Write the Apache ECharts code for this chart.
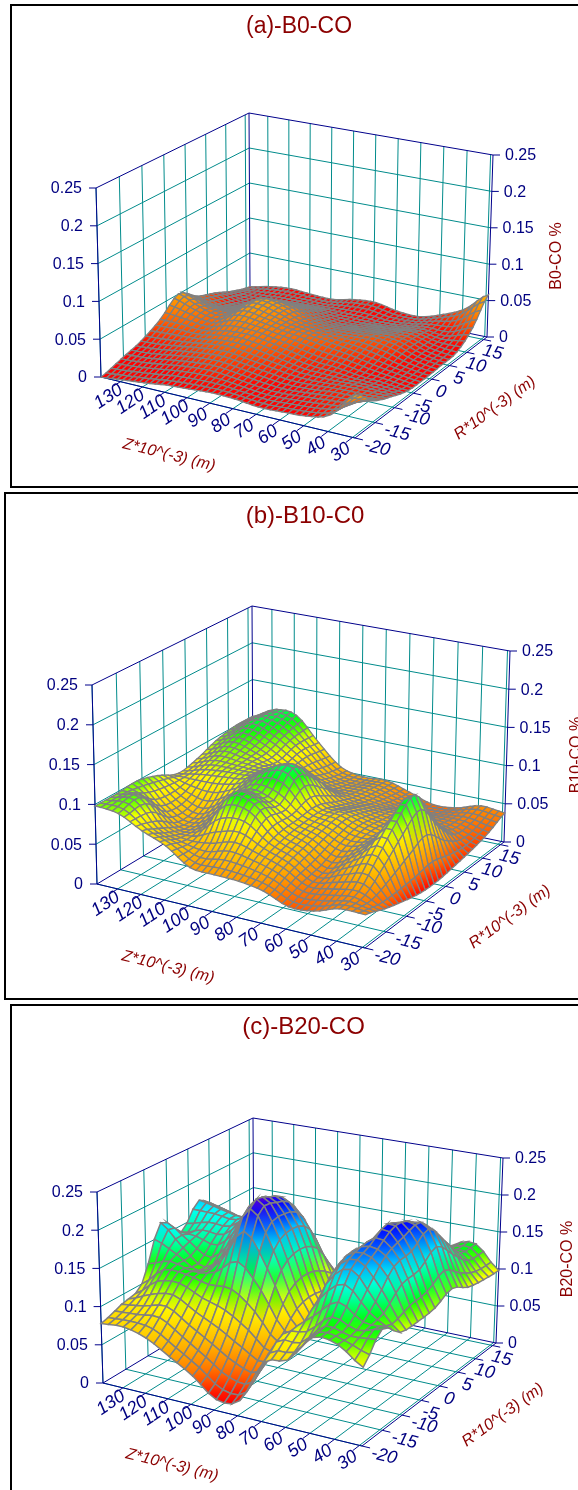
<!DOCTYPE html>
<html><head><meta charset="utf-8">
<style>html,body{margin:0;padding:0;background:#fff}#c{width:578px;height:1490px}</style>
<script src="https://cdn.jsdelivr.net/npm/echarts@6/dist/echarts.min.js"></script>
</head><body><div id="c"></div>
<script>
// ---- data (heights in 0.001 %; rows = R, columns = Z) ----
const zGrid = [139,129,119,109,99,89,79,69,59,49,39,29];
const rGrid = [-20,-15.5,-11,-6.5,-2,2.5,7,11.5,16];
const zTicks = [130,120,110,100,90,80,70,60,50,40,30];
const rTicks = [-20,-15,-10,-5,0,5,10,15];
const hTicks = [0,0.05,0.1,0.15,0.2,0.25];
const hLabels = ['0','0.05','0.1','0.15','0.2','0.25'];
const heightsA = [
 [ 0, 3, 6,10,12,14,13,10,11,13,22,55],
 [ 8,10,14,18,20,18,14,12,14,17,20,30],
 [16,18,22,26,28,24,20,16,16,18,18,18],
 [30,30,28,34,36,32,26,20,18,14,12, 9],
 [50,38,32,46,42,36,32,28,24,18,12, 8],
 [32,24,28,48,44,32,26,26,28,24,14, 9],
 [22,14,16,26,28,20,16,18,20,22,14,11],
 [10, 8,10,12,12,12,12,10,12,16,16,28],
 [ 2, 8,11, 9, 8,14,16,10, 9,18,32,58]];
const heightsB = [
 [ 98, 95, 80, 68, 48, 46, 45, 40, 28, 30, 40, 40],
 [ 98,100, 68, 60, 62, 70, 62, 52, 36, 40, 44, 30],
 [100, 74, 56, 66,106,102, 72, 60, 42, 58, 70, 22],
 [ 92, 72, 62, 80,100, 92, 74, 66, 54, 66, 98, 16],
 [ 80, 85, 88, 92,112,118, 76, 70, 60, 62,116, 15],
 [ 85, 95, 92, 90, 98, 95, 66, 62, 56, 54, 72, 18],
 [ 95,105, 95, 80, 72, 62, 56, 52, 50, 46, 40, 22],
 [100,115,105, 85, 60, 52, 52, 44, 36, 36, 36, 28],
 [100,115,113, 82, 55, 48, 49, 40, 30, 32, 41, 38]];
const heightsC = [
 [ 78, 80, 72, 55, 37, 14, 20, 75, 85,120,118, 97],
 [ 88, 92, 98, 80, 62, 44, 40, 95,105,130,120,128],
 [100,125,125,118,118, 95, 62, 78,150,175,140,108],
 [168,140,120,150,210,160, 90, 70,165,190,170,106],
 [140,150,150,180,212,175, 95, 65,125,205,175,108],
 [172,165,160,175,192,160, 85, 60,105,185,190,118],
 [140,135,125,130,120,100, 75, 55, 85,150,160,105],
 [110,100, 90, 80, 70, 65, 60, 50, 72,120,130,100],
 [ 90, 85, 76, 60, 42, 45, 48, 60, 85,120,128, 98]];

// ---- layout and style ----
const TEAL='#008B8B', NAVY='#00008B', LABEL='#000080', DARKRED='#8B0000', MESH='#808080';
const FONT='"Liberation Sans",Arial,sans-serif';
const heightStops=[[0,'#ff0000'],[0.015,'#ff0000'],[0.035,'#ff6a00'],[0.06,'#ffb000'],[0.1,'#ffff00'],[0.125,'#00ff00'],[0.15,'#00ffc0'],[0.165,'#00ffff'],[0.19,'#0050ff'],[0.205,'#0000ff'],[0.225,'#8000c0']];
const panels=[
 {name:'(a)-B0-CO', tx:294,ty:10, tsize:23, colorGain:1.1, frame:[11,5,640,482], heights:heightsA, sz:4,sr:4, meshW:1.3, hTitle:'B0-CO %', hT:[557,256],
  zT:[169,455], rT:[495,408],
  floor:[[101,377],[355,438],[487,337],[250,288]], top:[[96,188],[358,241],[493,155],[249,113]]},
 {name:'(b)-B10-C0', tx:300,ty:499, tsize:24, colorGain:1.15, frame:[5,493,640,506], heights:heightsB, sz:4,sr:4, meshW:1.3, hTitle:'B10-CO %', hT:[577,755],
  zT:[168,967], rT:[510,917],
  floor:[[97,884],[365,948],[504,842],[253,790]], top:[[92,685],[368,741],[510,651],[252,606]]},
 {name:'(c)-B20-CO', tx:298.5,ty:1010, tsize:24, colorGain:1, frame:[11,1005,640,600], heights:heightsC, sz:3,sr:3, meshW:1.5, hTitle:'B20-CO %', hT:[568,1259],
  zT:[172,1465], rT:[503,1415],
  floor:[[103,1383],[362,1446],[496,1343],[254,1292]], top:[[97,1192],[365,1243],[503,1158],[253,1118]]}
];

function homography(q){
 const [x0,y0]=q[0],[x1,y1]=q[1],[x2,y2]=q[2],[x3,y3]=q[3];
 const dx1=x1-x2,dx2=x3-x2,sx=x0-x1+x2-x3,dy1=y1-y2,dy2=y3-y2,sy=y0-y1+y2-y3;
 const den=dx1*dy2-dx2*dy1, g=(sx*dy2-dx2*sy)/den, h=(dx1*sy-sx*dy1)/den;
 const a=x1-x0+g*x1,b=x3-x0+h*x3,d=y1-y0+g*y1,e=y3-y0+h*y3;
 return (u,v)=>{const w=g*u+h*v+1;return [(a*u+b*v+x0)/w,(d*u+e*v+y0)/w];};
}
const zHi=zGrid[0], zLo=zGrid[zGrid.length-1], rLo=rGrid[0], rHi=rGrid[rGrid.length-1], hHi=hTicks[hTicks.length-1];
panels.forEach(p=>{
 const f=homography(p.floor), t=homography(p.top);
 p.project=(z,r,h)=>{const u=(zHi-z)/(zHi-zLo),v=(r-rLo)/(rHi-rLo),w=h/hHi,a=f(u,v),b=t(u,v);
  return [a[0]+(b[0]-a[0])*w,a[1]+(b[1]-a[1])*w];};
 // display smoothing between the read values (Catmull-Rom), like a line's smooth:true
 const H=p.heights,nr=H.length,nz=H[0].length;
 const cr=(a,b,c,d,t)=>0.5*((2*b)+(c-a)*t+(2*a-5*b+4*c-d)*t*t+(3*b-a-3*c+d)*t*t*t);
 const at=(j,i)=>H[Math.max(0,Math.min(nr-1,j))][Math.max(0,Math.min(nz-1,i))];
 const smooth=(jf,if_)=>{const j=Math.min(nr-2,Math.floor(jf)),i=Math.min(nz-2,Math.floor(if_)),tj=jf-j,ti=if_-i,row=[];
  for(let k=-1;k<=2;k++)row.push(cr(at(j+k,i-1),at(j+k,i),at(j+k,i+1),at(j+k,i+2),ti));
  return Math.max(0,cr(row[0],row[1],row[2],row[3],tj))/1000;};
 p.mesh=[];const mr=(nr-1)*p.sr,mz=(nz-1)*p.sz;
 for(let j=0;j<=mr;j++){const row=[];for(let i=0;i<=mz;i++)row.push(smooth(j/p.sr,i/p.sz));p.mesh.push(row);}
 p.cells=[];for(let j=mr-1;j>=0;j--)for(let i=0;i<mz;i++)p.cells.push([i,j]);
 p.zOf=i=>zHi-(zHi-zLo)*i/mz; p.rOf=j=>rLo+(rHi-rLo)*j/mr;
});

function hex(c){return [1,3,5].map(k=>parseInt(c.substr(k,2),16));}
function heightColor(h){
 const s=heightStops;
 if(h<=s[0][0])return s[0][1];
 for(let k=1;k<s.length;k++)if(h<=s[k][0]){const t=(h-s[k-1][0])/(s[k][0]-s[k-1][0]),a=hex(s[k-1][1]),b=hex(s[k][1]);
  return 'rgb('+a.map((v,n)=>Math.round(v+(b[n]-v)*t)).join(',')+')';}
 return s[s.length-1][1];
}

function frameSegments(){
 const L=[];
 const seg=(a,b,c,dx)=>L.push({a,b,c,dx});
 zTicks.forEach(z=>{
  seg([z,rLo,0],[z,rHi,0],TEAL);             // floor
  seg([z,rHi,0],[z,rHi,hHi],TEAL);           // back wall
  seg([z,rLo,0],[z,rLo-1.6,0],NAVY);         // tick
 });
 rTicks.forEach(r=>{
  seg([zHi,r,0],[zLo,r,0],TEAL);
  seg([zHi,r,0],[zHi,r,hHi],TEAL);
  seg([zLo,r,0],[zLo-3.2,r,0],NAVY);
 });
 hTicks.forEach(h=>{
  if(h>0&&h<hHi){seg([zHi,rLo,h],[zHi,rHi,h],TEAL);seg([zHi,rHi,h],[zLo,rHi,h],TEAL);}
  seg([zHi,rLo,h],[zHi,rLo,h],NAVY,-7);
  seg([zLo,rHi,h],[zLo,rHi,h],NAVY,7);
 });
 [[[zHi,rLo,0],[zLo,rLo,0]],[[zLo,rLo,0],[zLo,rHi,0]],[[zLo,rHi,0],[zHi,rHi,0]],[[zHi,rHi,0],[zHi,rLo,0]],
  [[zHi,rLo,0],[zHi,rLo,hHi]],[[zHi,rHi,0],[zHi,rHi,hHi]],[[zLo,rHi,0],[zLo,rHi,hHi]],
  [[zHi,rLo,hHi],[zHi,rHi,hHi]],[[zHi,rHi,hHi],[zLo,rHi,hHi]]].forEach(e=>seg(e[0],e[1],NAVY));
 return L;
}
const segments=frameSegments();

function frameSeries(p){
 return {type:'custom',coordinateSystem:'cartesian2d',silent:true,clip:false,z:2,
  data:segments.map((s,i)=>[i,0]),
  renderItem:(params,api)=>{
   const s=segments[api.value(0)];
   const A=api.coord(p.project(...s.a)),B=api.coord(p.project(...s.b));
   if(s.dx)B[0]+=s.dx;
   return {type:'line',shape:{x1:A[0],y1:A[1],x2:B[0],y2:B[1]},style:{stroke:s.c,lineWidth:1}};
  }};
}
function surfaceSeries(p){
 return {type:'custom',coordinateSystem:'cartesian2d',silent:true,clip:false,z:3,progressive:0,
  data:p.cells,
  renderItem:(params,api)=>{
   const i=api.value(0),j=api.value(1);
   const corners=[[i,j],[i+1,j],[i+1,j+1],[i,j+1]].map(c=>{
    const h=p.mesh[c[1]][c[0]];
    return {h,pt:api.coord(p.project(p.zOf(c[0]),p.rOf(c[1]),h))};});
   let lo=corners[0],hi=corners[0];
   corners.forEach(c=>{if(c.h<lo.h)lo=c;if(c.h>hi.h)hi=c;});
   const g=p.colorGain;
   let fill=heightColor(g*(lo.h+hi.h)/2);
   if(Math.abs(lo.pt[1]-hi.pt[1])>1){
    fill={type:'linear',global:true,x:lo.pt[0],y:lo.pt[1],x2:lo.pt[0],y2:hi.pt[1],
     colorStops:[{offset:0,color:heightColor(g*lo.h)},{offset:1,color:heightColor(g*hi.h)}]};
   }
   return {type:'polygon',shape:{points:corners.map(c=>c.pt)},style:{fill,stroke:MESH,lineWidth:p.meshW}};
  }};
}
function labelSeries(p){
 const items=[];
 hTicks.forEach((h,k)=>{
  items.push({t:hLabels[k],at:[zHi,rLo,h],dx:-14,dy:1,align:'right',rot:0,font:'16px '+FONT,c:LABEL});
  items.push({t:hLabels[k],at:[zLo,rHi,h],dx:12,dy:1,align:'left',rot:0,font:'16px '+FONT,c:LABEL});
 });
 zTicks.forEach(z=>items.push({t:String(z),at:[z,rLo,0],dx:-12,dy:15,align:'center',rot:34,font:'italic 18px '+FONT,c:LABEL}));
 rTicks.forEach(r=>items.push({t:String(r),at:[zLo,r,0],dx:(r<-5?22:9),dy:(r<-5?10:13),align:'center',rot:-14,font:'italic 18px '+FONT,c:LABEL}));
 return {type:'custom',coordinateSystem:'cartesian2d',silent:true,clip:false,z:4,
  data:items.map((s,i)=>[i,0]),
  renderItem:(params,api)=>{
   const s=items[api.value(0)],P=api.coord(p.project(...s.at));
   return {type:'text',x:P[0]+s.dx,y:P[1]+s.dy,rotation:s.rot*Math.PI/180,
    style:{text:s.t,fill:s.c,font:s.font,align:s.align,verticalAlign:'middle'}};
  }};
}
const chart=echarts.init(document.getElementById('c'),null,{renderer:'canvas',width:578,height:1490});
const series=[],graphic=[];
panels.forEach(p=>{
 series.push(frameSeries(p),surfaceSeries(p),labelSeries(p));
 graphic.push({type:'rect',shape:{x:p.frame[0],y:p.frame[1],width:p.frame[2],height:p.frame[3]},style:{fill:'transparent',stroke:'#000',lineWidth:2},silent:true,z:0});
 [[p.hTitle,p.hT,90,'normal'],['Z*10^(-3) (m)',p.zT,-14,'italic'],['R*10^(-3) (m)',p.rT,36,'italic']].forEach(a=>{
  graphic.push({type:'text',x:a[1][0],y:a[1][1],rotation:a[2]*Math.PI/180,silent:true,z:5,
   style:{text:a[0],fill:DARKRED,font:a[3]+' 16px '+FONT,align:'center',verticalAlign:'middle'}});
 });
});
chart.setOption({
 animation:false,
 title:panels.map(p=>({text:p.name,left:p.tx,top:p.ty,textAlign:'center',textStyle:{color:DARKRED,fontFamily:'Liberation Sans',fontSize:p.tsize,fontWeight:'normal'}})),
 grid:{left:0,right:0,top:0,bottom:0},
 xAxis:{type:'value',min:0,max:578,show:false},
 yAxis:{type:'value',min:0,max:1490,inverse:true,show:false},
 tooltip:{show:false},
 graphic:graphic,
 series:series
});
</script></body></html>
